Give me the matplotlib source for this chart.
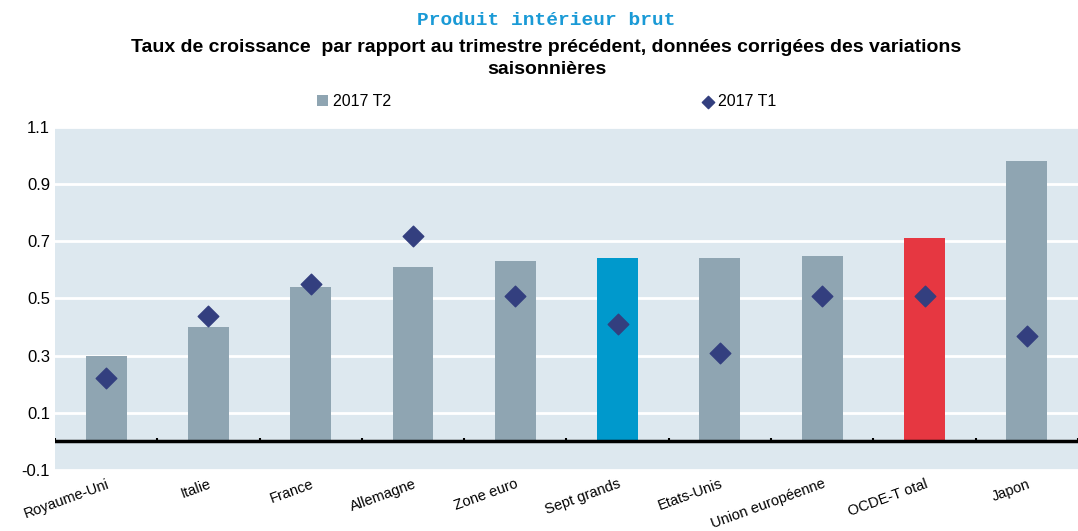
import matplotlib
matplotlib.use("Agg")
import matplotlib.pyplot as plt
import numpy as np

pays = ["Royaume-Uni", "Italie", "France", "Allemagne", "Zone euro",
        "Sept grands", "Etats-Unis", "Union européenne", "OCDE-T otal", "Japon"]
t2 = [0.30, 0.40, 0.54, 0.61, 0.63, 0.64, 0.64, 0.65, 0.71, 0.98]
t1 = [0.22, 0.44, 0.55, 0.72, 0.51, 0.41, 0.31, 0.51, 0.51, 0.37]
yticks = [-0.1, 0.1, 0.3, 0.5, 0.7, 0.9, 1.1]

gris = "#8fa5b2"
couleurs = [gris] * len(pays)
couleurs[5] = "#0099cc"
couleurs[8] = "#e63741"

plt.rcParams['font.family'] = ['Liberation Sans', 'DejaVu Sans']

fig = plt.figure(figsize=(10.78, 5.31), dpi=100)
ax = fig.add_axes([0.051, 0.115, 0.949, 0.646])
ax.set_facecolor("#dde8ef")

x = np.arange(len(pays))
barres = ax.bar(x, t2, width=0.4, color=couleurs, zorder=2, label="2017 T2")
points = ax.scatter(x, t1, marker="D", s=110, color="#333f7f", zorder=3, label="2017 T1")

ax.set_xlim(-0.5, len(pays) - 0.5)
ax.set_ylim(-0.1, 1.1)
ax.set_yticks(yticks)
ax.set_yticklabels([f"{v:.1f}" for v in yticks], fontsize=12)
ax.grid(axis="y", color="white", linewidth=2, zorder=1)
ax.set_axisbelow(True)

# ligne zero avec petits traits entre categories
ax.axhline(0, color="black", linewidth=2.5, zorder=4)
ax.vlines(np.arange(len(pays) + 1) - 0.5, 0, 0.012, color="black", linewidth=1.5, zorder=4)

ax.set_xticks(x)
ax.set_xticklabels(pays, rotation=20, ha="right", rotation_mode="anchor", fontsize=10.5)
ax.tick_params(axis="both", length=0)
ax.tick_params(axis="x", pad=5)
for s in ax.spines.values():
    s.set_visible(False)

fig.text(0.507, 0.962, "Produit intérieur brut", ha="center", va="center",
         fontsize=14, fontweight="bold", color="#1a9ad6", family="Liberation Mono")
fig.text(0.507, 0.91, "Taux de croissance  par rapport au trimestre précédent, données corrigées des variations",
         ha="center", va="center", fontsize=14, fontweight="bold")
fig.text(0.507, 0.87, "saisonnières", ha="center", va="center", fontsize=14, fontweight="bold")

fig.legend([barres, points], ["2017 T2", "2017 T1"], loc="center", bbox_to_anchor=(0.507, 0.808),
           ncol=2, frameon=False, fontsize=11.5, columnspacing=19.5, handlelength=0.7,
           handletextpad=0.3, markerscale=0.6)

fig.savefig("out.png", dpi=100)
